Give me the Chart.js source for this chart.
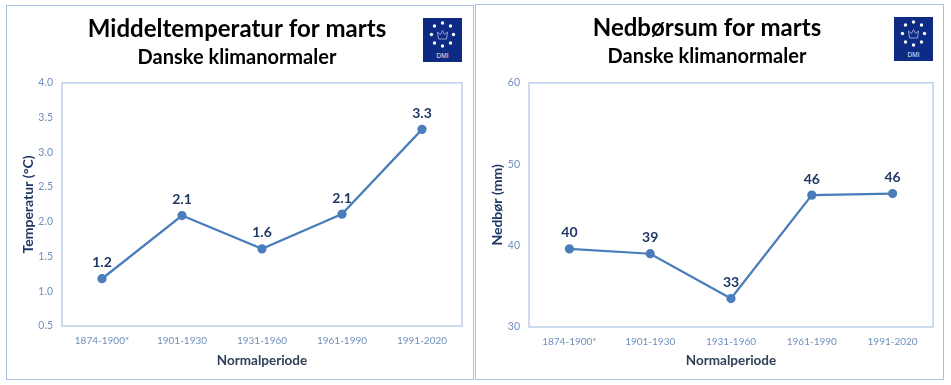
<!DOCTYPE html>
<html>
<head>
<meta charset="utf-8">
<title>Danske klimanormaler for marts</title>
<script src="https://cdn.jsdelivr.net/npm/chart.js@4"></script>
<style>
    html, body { margin: 0; padding: 0; background: #fff; }
    body { position: relative; width: 951px; height: 385px; overflow: hidden; }
    .panel { position: absolute; box-sizing: border-box; border: 1px solid #a9c2e4; }
    canvas { position: absolute; display: block; }
    .logo { position: absolute; width: 39px; height: 44px; }
</style>
</head>
<body>
<div class="panel" style="left:6px;top:5px;width:468px;height:375px"></div>
<div class="panel" style="left:475px;top:4px;width:469px;height:376px"></div>
<canvas id="tempChart" width="468" height="375" style="left:6px;top:5px"></canvas>
<canvas id="rainChart" width="469" height="376" style="left:475px;top:4px"></canvas>
<svg class="logo" style="left:423px;top:18px" viewBox="0 0 39 44"><use href="#dmi"></use></svg>
<svg class="logo" style="left:894px;top:17px" viewBox="0 0 39 44">
    <g id="dmi">
        <rect width="39" height="44" fill="#0d2b84"></rect>
        <g fill="#fff">
            <circle cx="19.5" cy="5" r="1.7"></circle><circle cx="27.5" cy="8" r="1.7"></circle>
            <circle cx="30.5" cy="16.5" r="1.7"></circle><circle cx="27.5" cy="25" r="1.7"></circle>
            <circle cx="19.5" cy="28" r="1.7"></circle><circle cx="11.5" cy="25" r="1.7"></circle>
            <circle cx="8.5" cy="16.5" r="1.7"></circle><circle cx="11.5" cy="8" r="1.7"></circle>
        </g>
        <path d="M15.5 21 L14.5 14 L17.5 16.5 L19.5 12.5 L21.5 16.5 L24.5 14 L23.5 21 Z" fill="none" stroke="#8f9fcf" stroke-width="1"></path>
        <text x="19.5" y="40" text-anchor="middle" fill="#e6ebf7" font-family="Liberation Sans" font-size="6.5">DMI</text>
    </g>
</svg>
<script>
const categories = ['1874-1900*', '1901-1930', '1931-1960', '1961-1990', '1991-2020'];
const tempValues = [1.18, 2.09, 1.61, 2.11, 3.33];
const tempLabels = ['1.2', '2.1', '1.6', '2.1', '3.3'];
const rainValues = [39.6, 39.0, 33.5, 46.2, 46.4];
const rainLabels = ['40', '39', '33', '46', '46'];

const FONT = "Lato, 'Open Sans', sans-serif";

// frame round the plot area, Chart.js only gives the left and bottom axis lines
const plotFrame = {
    id: 'plotFrame',
    beforeDraw: function(chart) {
        const a = chart.chartArea;
        chart.ctx.save();
        chart.ctx.strokeStyle = '#bed0ea';
        chart.ctx.lineWidth = 1.5;
        chart.ctx.strokeRect(a.left, a.top, a.right - a.left, a.bottom - a.top);
        chart.ctx.restore();
    }
};

// value labels above the points
const pointLabels = {
    id: 'pointLabels',
    afterDatasetsDraw: function(chart, args, opts) {
        const ctx = chart.ctx;
        ctx.save();
        ctx.font = 'bold 14px ' + FONT;
        ctx.fillStyle = '#1f3864';
        ctx.textAlign = 'center';
        ctx.textBaseline = 'middle';
        chart.getDatasetMeta(0).data.forEach(function(pt, i) {
            ctx.fillText(opts.texts[i], pt.x, pt.y - 16);
        });
        ctx.restore();
    }
};

function makeChart(id, cfg) {
    return new Chart(document.getElementById(id).getContext('2d'), {
        type: 'line',
        data: {
            labels: categories,
            datasets: [{
                data: cfg.values,
                borderColor: '#4a7ebb',
                backgroundColor: '#4a7ebb',
                borderWidth: 2.25,
                pointRadius: 3.5,
                tension: 0
            }]
        },
        plugins: [plotFrame, pointLabels],
        options: {
            responsive: false,
            animation: false,
            layout: { padding: { left: cfg.padLeft, right: cfg.padRight, top: 0, bottom: 0 } },
            plugins: {
                legend: { display: false },
                tooltip: { enabled: false },
                pointLabels: { texts: cfg.labels },
                title: {
                    display: true,
                    text: cfg.title,
                    color: '#000',
                    font: { family: FONT, size: 24, weight: 'bold' },
                    padding: { top: 10, bottom: 2 }
                },
                subtitle: {
                    display: true,
                    text: 'Danske klimanormaler',
                    color: '#000',
                    font: { family: FONT, size: 20, weight: 'bold' },
                    padding: { top: 0, bottom: cfg.subGap }
                }
            },
            scales: {
                x: {
                    offset: true,
                    afterFit: function(scale) { scale.height = cfg.xHeight; },
                    grid: { display: false, drawTicks: false },
                    border: { display: false },
                    ticks: {
                        color: '#6f8fbf',
                        font: { family: FONT, size: 10 },
                        maxRotation: 0,
                        padding: 9
                    },
                    title: {
                        display: true,
                        text: 'Normalperiode',
                        color: '#2f4058',
                        font: { family: FONT, size: 13.5, weight: 'bold' },
                        padding: { top: 4, bottom: 11 }
                    }
                },
                y: {
                    min: cfg.min,
                    max: cfg.max,
                    afterFit: function(scale) { scale.width = cfg.yWidth; },
                    grid: { display: false, drawTicks: false },
                    border: { display: false },
                    ticks: {
                        stepSize: cfg.step,
                        color: '#6f8fbf',
                        font: { family: FONT, size: 10.5 },
                        padding: 9,
                        callback: cfg.tickFormat
                    },
                    title: {
                        display: true,
                        text: cfg.yTitle,
                        color: '#1f3864',
                        font: { family: FONT, size: 14, weight: 'bold' },
                        padding: { top: 8, bottom: 0 }
                    }
                }
            }
        }
    });
}

makeChart('tempChart', {
    title: 'Middeltemperatur for marts',
    yTitle: 'Temperatur (°C)',
    values: tempValues,
    labels: tempLabels,
    min: 0.5, max: 4, step: 0.5,
    tickFormat: function(v) { return v.toFixed(1); },
    padLeft: 6, padRight: 12, yWidth: 50, xHeight: 54, subGap: 13
});

makeChart('rainChart', {
    title: 'Nedbørsum for marts',
    yTitle: 'Nedbør (mm)',
    values: rainValues,
    labels: rainLabels,
    min: 30, max: 60, step: 10,
    tickFormat: function(v) { return String(v); },
    padLeft: 6, padRight: 11, yWidth: 48, xHeight: 53, subGap: 14
});
</script>
</body>
</html>
